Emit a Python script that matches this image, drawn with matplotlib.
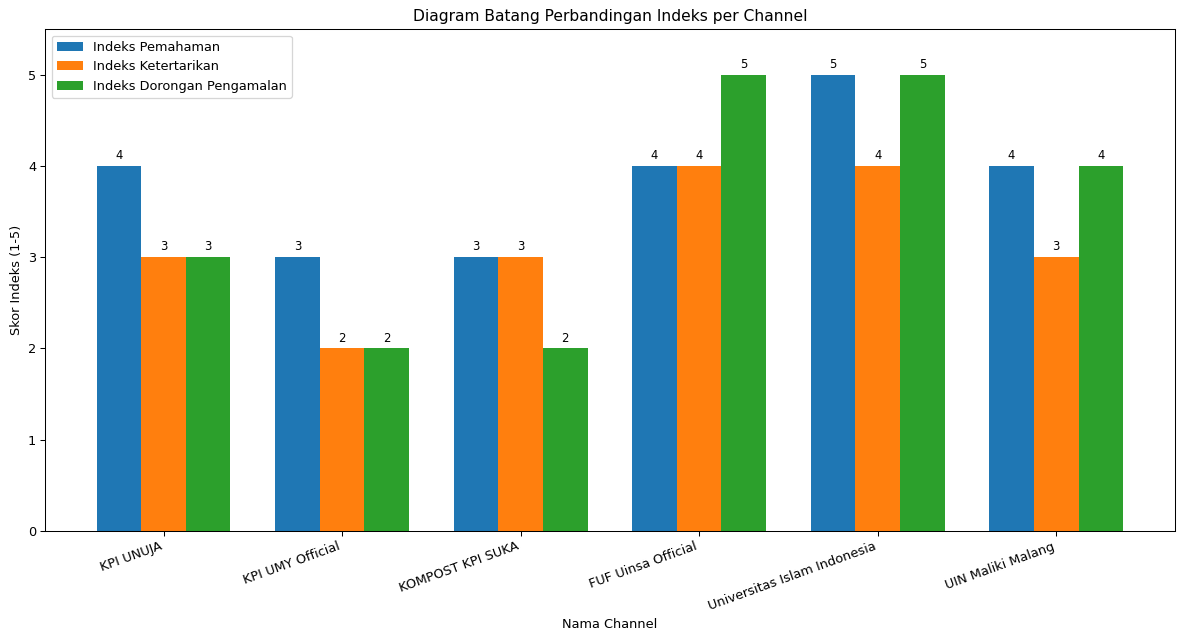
import numpy as np
import matplotlib
matplotlib.use('Agg')
import matplotlib.pyplot as plt

channels = ['KPI UNUJA', 'KPI UMY Official', 'KOMPOST KPI SUKA',
            'FUF Uinsa Official', 'Universitas Islam Indonesia', 'UIN Maliki Malang']
pemahaman = [4, 3, 3, 4, 5, 4]
ketertarikan = [3, 2, 3, 4, 4, 3]
dorongan = [3, 2, 2, 5, 5, 4]

series = [('Indeks Pemahaman', pemahaman),
          ('Indeks Ketertarikan', ketertarikan),
          ('Indeks Dorongan Pengamalan', dorongan)]

x = np.arange(len(channels))
width = 0.25

# reference looks like it was drawn at ~93 dpi
fig, ax = plt.subplots(figsize=(1190 / 93, 635 / 93), dpi=93)
for i, (label, vals) in enumerate(series):
    bars = ax.bar(x + (i - 1) * width, vals, width, label=label)
    ax.bar_label(bars, padding=3, fontsize=9)

ax.set_title('Diagram Batang Perbandingan Indeks per Channel', fontsize=12)
ax.set_xlabel('Nama Channel')
ax.set_ylabel('Skor Indeks (1-5)')
ax.set_xticks(x)
ax.set_xticklabels(channels, rotation=20, ha='right')
ax.set_ylim(0, 5.5)
ax.legend(loc='upper left')

fig.subplots_adjust(left=0.038, right=0.987, top=0.954, bottom=0.164)
fig.savefig('out.png', dpi=93)
